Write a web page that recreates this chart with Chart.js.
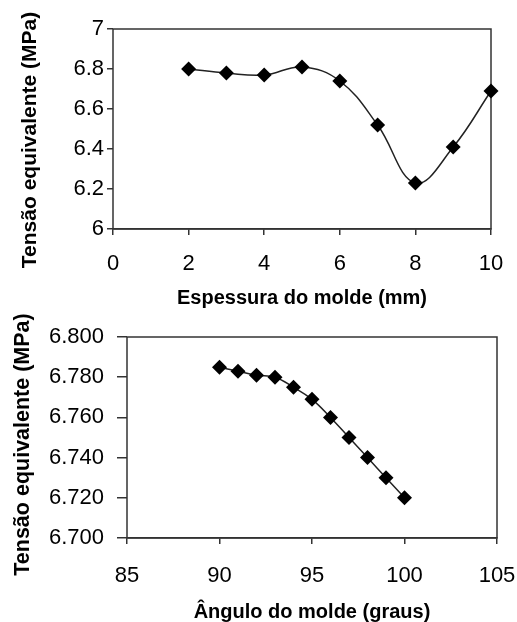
<!DOCTYPE html>
<html>
<head>
<meta charset="utf-8">
<style>
  body { margin: 0; background: #fff; }
  .box { position: absolute; left: 0; width: 517px; }
</style>
<script src="https://cdn.jsdelivr.net/npm/chart.js@4"></script>
</head>
<body>
<div class="box" style="top:0;height:310px"><canvas id="chartThickness" width="517" height="310"></canvas></div>
<div class="box" style="top:310px;height:312px"><canvas id="chartAngle" width="517" height="312"></canvas></div>
<script>
// espessura do molde (mm) vs tensao equivalente (MPa)
const thicknessMm = [2, 3, 4, 5, 6, 7, 8, 9, 10];
const stressByThickness = [6.80, 6.78, 6.77, 6.81, 6.74, 6.52, 6.23, 6.41, 6.69];

// angulo do molde (graus) vs tensao equivalente (MPa)
const angleDeg = [90, 91, 92, 93, 94, 95, 96, 97, 98, 99, 100];
const stressByAngle = [6.785, 6.783, 6.781, 6.780, 6.775, 6.769, 6.760, 6.750, 6.740, 6.730, 6.720];

const yTitle = "Tensão equivalente (MPa)";
const xTitleThickness = "Espessura do molde (mm)";
const xTitleAngle = "Ângulo do molde (graus)";

const axisColor = "#333";

// box around the plot area (top and right sides too)
const frame = {
  id: "frame",
  beforeDatasetsDraw(chart) {
    const a = chart.chartArea;
    const ctx = chart.ctx;
    ctx.save();
    ctx.strokeStyle = axisColor;
    ctx.lineWidth = 1.5;
    ctx.strokeRect(a.left, a.top, a.right - a.left, a.bottom - a.top);
    ctx.restore();
  },
};

function makeChart(target, xs, ys, opts) {
  const points = xs.map((x, i) => ({ x: x, y: ys[i] }));

  // the y title in the original sits a bit lower than the middle of the axis
  const nudgeTitle = {
    id: "nudgeTitle",
    afterLayout(chart) {
      const y = chart.scales.y;
      y.top += opts.yTitleShift;
      y.bottom += opts.yTitleShift;
    },
  };

  return new Chart(target, {
    type: "line",
    data: {
      datasets: [
        {
          data: points,
          borderColor: "#222",
          borderWidth: 1.5,
          tension: 0.4,
          pointStyle: "rectRot",
          pointRadius: 7.5,
          pointBackgroundColor: "#000",
          pointBorderColor: "#000",
          pointBorderWidth: 0,
          clip: false,
        },
      ],
    },
    options: {
      responsive: false,
      animation: false,
      layout: { padding: opts.padding },
      plugins: { legend: { display: false }, tooltip: { enabled: false } },
      scales: {
        x: {
          type: "linear",
          min: opts.xMin,
          max: opts.xMax,
          afterFit: (scale) => {
            scale.height = opts.xHeight;
            scale.paddingLeft = 0;
            scale.paddingRight = 0;
          },
          ticks: {
            stepSize: opts.xStep,
            color: "#000",
            padding: opts.xTickPad,
            maxRotation: 0,
            autoSkip: false,
            font: { family: "Liberation Sans", size: 22 },
          },
          grid: { drawOnChartArea: false, tickLength: 6, color: axisColor, lineWidth: 1.5 },
          border: { color: axisColor, width: 1.5 },
          title: {
            display: true,
            text: opts.xTitle,
            color: "#000",
            padding: { top: 0, bottom: 0 },
            font: { family: "Liberation Sans", size: 20, weight: "bold", lineHeight: opts.xTitleLH },
          },
        },
        y: {
          min: opts.yMin,
          max: opts.yMax,
          afterFit: (scale) => {
            scale.width = opts.yWidth;
            scale.paddingTop = 0;
            scale.paddingBottom = 0;
          },
          ticks: {
            stepSize: opts.yStep,
            color: "#000",
            padding: opts.yTickPad,
            font: { family: "Liberation Sans", size: 22 },
            callback: opts.yFormat,
          },
          grid: { drawOnChartArea: false, tickLength: opts.yTickLen, color: axisColor, lineWidth: 1.5 },
          border: { display: false },
          title: {
            display: true,
            text: yTitle,
            color: "#000",
            padding: { top: opts.yTitlePad, bottom: 0 },
            font: { family: "Liberation Sans", size: opts.yTitleSize, weight: "bold" },
          },
        },
      },
    },
    plugins: [frame, nudgeTitle],
  });
}

makeChart(document.querySelector("#chartThickness"), thicknessMm, stressByThickness, {
  padding: { top: 29, right: 26, left: 0, bottom: 0 },
  xMin: 0, xMax: 10, xStep: 2,
  yMin: 6, yMax: 7, yStep: 0.2,
  yFormat: (v) => String(Math.round(v * 10) / 10),
  xHeight: 81, yWidth: 113,
  xTickPad: 16, xTitleLH: 1.2,
  yTickLen: 6, yTickPad: 3, yTitlePad: 18, yTitleSize: 21, yTitleShift: 11,
  xTitle: xTitleThickness,
});

makeChart(document.querySelector("#chartAngle"), angleDeg, stressByAngle, {
  padding: { top: 27, right: 20, left: 0, bottom: 0 },
  xMin: 85, xMax: 105, xStep: 5,
  yMin: 6.7, yMax: 6.8, yStep: 0.02,
  yFormat: (v) => v.toFixed(3),
  xHeight: 84, yWidth: 127,
  xTickPad: 19, xTitleLH: 1.0,
  yTickLen: 10, yTickPad: 13, yTitlePad: 10, yTitleSize: 21.5, yTitleShift: 7,
  xTitle: xTitleAngle,
});
</script>
</body>
</html>
